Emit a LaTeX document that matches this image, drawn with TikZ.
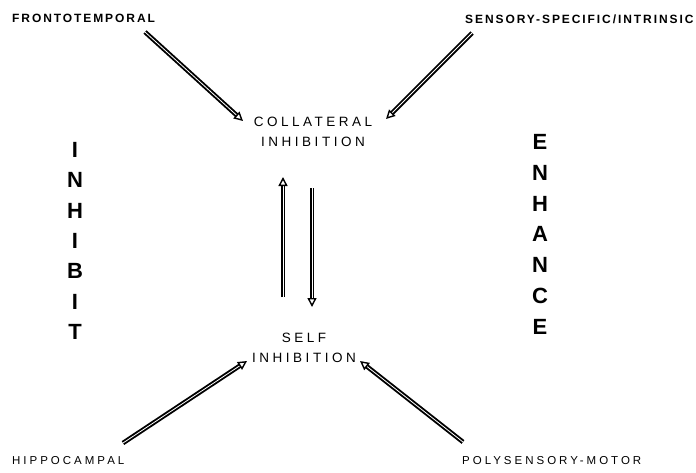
\documentclass[tikz,border=0pt]{standalone}
\usepackage{fontspec}
\setmainfont{Liberation Sans}
\newfontfamily\widefont[LetterSpace=26]{Liberation Sans}
\newfontfamily\srcfont[LetterSpace=16]{Liberation Sans}
\usetikzlibrary{arrows.meta}
\tikzset{
    source/.style={font=\srcfont\bfseries\fontsize{12}{13}\selectfont, inner sep=0pt},
    srclow/.style={font=\widefont\fontsize{11.5}{12}\selectfont, inner sep=0pt},
    centre/.style={font=\widefont\fontsize{13.5}{20}\selectfont, align=center, inner sep=0pt},
    bigletter/.style={font=\bfseries\fontsize{22}{22}\selectfont, inner sep=0pt},
    hollow/.style={line width=1.9pt, double=white, double distance=0.8pt,
        -{Triangle[open, length=9pt, width=9pt, line width=1.4pt]}}
}
\begin{document}
\begin{tikzpicture}[x=1pt, y=-1pt]
    \useasboundingbox (0,0) rectangle (696,472);

    % Quellen
    \node[source, anchor=west] (fronto) at (12,18) {FRONTOTEMPORAL};
    \node[source, anchor=west] (sensory) at (465,19) {SENSORY-SPECIFIC/INTRINSIC};
    \node[srclow, anchor=west] (hippo) at (12,461) {HIPPOCAMPAL};
    \node[srclow, anchor=west] (poly) at (462,461) {POLYSENSORY-MOTOR};

    % Zentrale Begriffe
    \node[centre] (coll) at (313,132) {COLLATERAL\\INHIBITION};
    \node[centre] (self) at (304,348) {SELF\\INHIBITION};

    % Seitliche Woerter
    \foreach \l [count=\i] in {I,N,H,I,B,I,T} {
        \node[bigletter] (inh\i) at (75,150+30.3*\i-30.3) {\l};
    }
    \foreach \l [count=\i] in {E,N,H,A,N,C,E} {
        \node[bigletter] (enh\i) at (540,142+30.8*\i-30.8) {\l};
    }

    % Endpunkte der Pfeile
    \coordinate (ftstart) at (145,32);
    \coordinate (ftend) at (243,121);
    \coordinate (ssstart) at (472,33);
    \coordinate (ssend) at (386,119);
    \coordinate (hcstart) at (123,443);
    \coordinate (hcend) at (247,361);
    \coordinate (psstart) at (463,442);
    \coordinate (psend) at (360,361);
    \coordinate (upstart) at (283,297);
    \coordinate (upend) at (283,177);
    \coordinate (dnstart) at (312,188);
    \coordinate (dnend) at (312,307);

    % Pfeile
    \draw[hollow] (ftstart) -- (ftend);
    \draw[hollow] (ssstart) -- (ssend);
    \draw[hollow] (hcstart) -- (hcend);
    \draw[hollow] (psstart) -- (psend);
    \draw[hollow] (upstart) -- (upend);
    \draw[hollow] (dnstart) -- (dnend);
\end{tikzpicture}
\end{document}
